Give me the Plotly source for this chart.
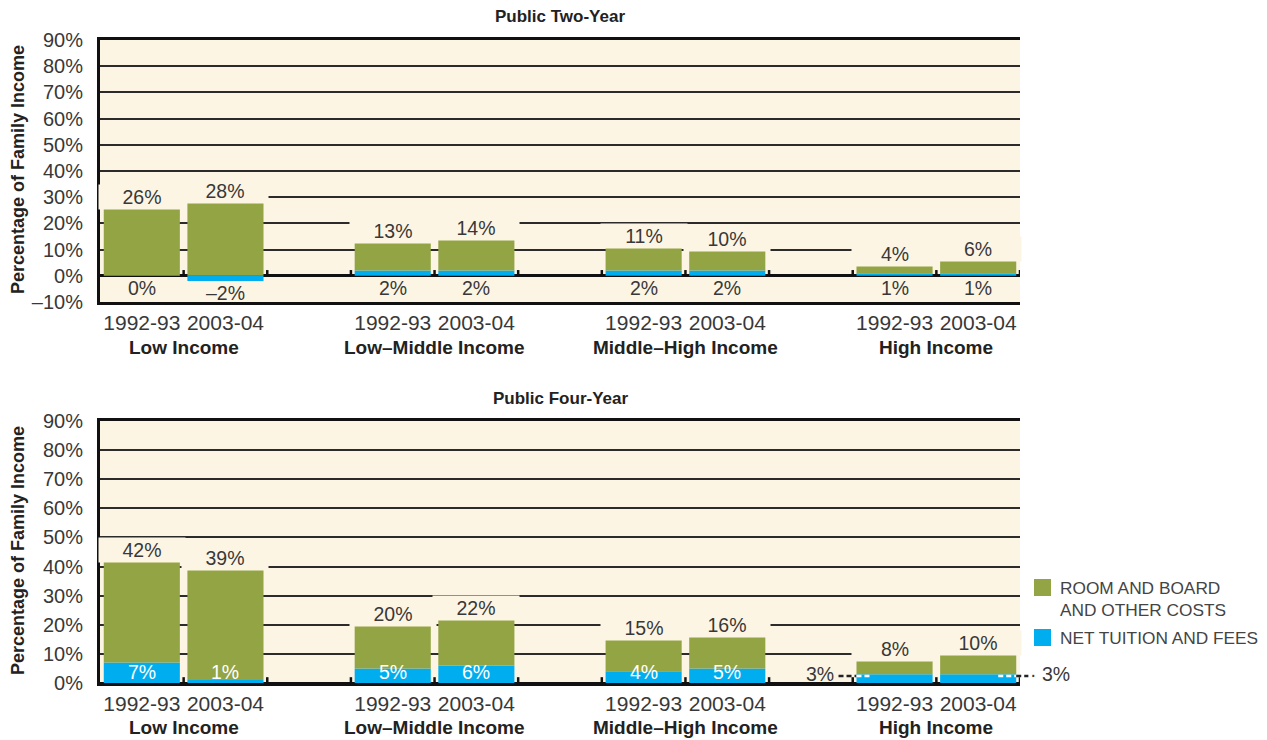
import plotly.graph_objects as go
from plotly.subplots import make_subplots

# data
groups = ["Low Income", "Low–Middle Income", "Middle–High Income", "High Income"]
years = ["1992-93", "2003-04"]

two_year_tuition = [0, -2, 2, 2, 2, 2, 1, 1]
two_year_room = [26, 28, 11, 12, 9, 8, 3, 5]
two_year_total = [26, 28, 13, 14, 11, 10, 4, 6]

four_year_tuition = [7, 1, 5, 6, 4, 5, 3, 3]
four_year_room = [35, 39, 15, 16, 11, 11, 5, 7]
four_year_total = [42, 39, 20, 22, 15, 16, 8, 10]

GREEN = "#93A445"
BLUE = "#00AEEF"
CREAM = "#FDF5E4"
TXT = "#383838"
FONT = "Liberation Sans"

# page is offset by the 8px body margin
OFF = 8
W, H = 1267 - OFF, 740 - OFF
bar_w = 0.91


def X(px):
    return (px - OFF) / W


def Y(py):
    return 1 - (py - OFF) / H


# two bars per group, one empty slot after each group
pos = [g * 3 + j for g in range(len(groups)) for j in range(len(years))]
tick_years = [years[j] for g in range(len(groups)) for j in range(len(years))]
XLEFT, XRIGHT = 100, 1020
XR = [-0.5, 10.5]


def data_px(v):
    return XLEFT + (v - XR[0]) / (XR[1] - XR[0]) * (XRIGHT - XLEFT)


def pct(v):
    return ("–" if v < 0 else "") + str(abs(v)) + "%"


fig = make_subplots(rows=2, cols=1)

panels = [
    (1, two_year_tuition, two_year_room, [-10, 90]),
    (2, four_year_tuition, four_year_room, [0, 90]),
]
for row, tuition, room, yr in panels:
    fig.add_trace(go.Bar(x=pos, y=tuition, width=bar_w, marker_color=BLUE,
                         marker_line_width=0, name="NET TUITION AND FEES",
                         showlegend=False), row=row, col=1)
    fig.add_trace(go.Bar(x=pos, y=room, width=bar_w, marker_color=GREEN,
                         marker_line_width=0, name="ROOM AND BOARD AND OTHER COSTS",
                         showlegend=False), row=row, col=1)
    yt = list(range(yr[0], yr[1] + 1, 10))
    fig.update_yaxes(range=yr, tickvals=yt, ticktext=[pct(v) for v in yt],
                     showgrid=True, gridcolor="#2b2b2b", gridwidth=2,
                     zeroline=True, zerolinecolor="#111", zerolinewidth=3,
                     showline=True, linecolor="#111", linewidth=3,
                     ticks="outside", ticklen=10, tickcolor="rgba(0,0,0,0)",
                     tickfont=dict(family=FONT, size=20, color=TXT),
                     automargin=False, fixedrange=True, row=row, col=1)
    fig.update_xaxes(range=XR, tickvals=pos, ticktext=tick_years,
                     showgrid=False, zeroline=False,
                     showline=True, mirror=True, linecolor="#111", linewidth=3,
                     ticks="",
                     tickfont=dict(family=FONT, size=21, color=TXT),
                     automargin=False, row=row, col=1)

fig.update_layout(
    xaxis=dict(domain=[X(XLEFT), X(XRIGHT)]),
    xaxis2=dict(domain=[X(XLEFT), X(XRIGHT)]),
    yaxis=dict(domain=[Y(302), Y(40)]),
    yaxis2=dict(domain=[Y(683), Y(421)]),
)

ann = []
shapes = []


def label(text, x, y, xref="paper", yref="paper", xanchor="center", yanchor="middle", **kw):
    d = dict(text=text, x=x, y=y, xref=xref, yref=yref, xanchor=xanchor,
             yanchor=yanchor, showarrow=False)
    d.update(kw)
    ann.append(d)


# titles and axis titles
for txt, yp in [("Public Two-Year", 17), ("Public Four-Year", 398)]:
    label(txt, X((XLEFT + XRIGHT) / 2), Y(yp),
          font=dict(family=FONT, size=17, color="#222", weight="bold"))
for yc in [170, 551]:
    label("Percentage of Family Income", X(18), Y(yc), textangle=-90,
          font=dict(family=FONT, size=18, color="#222", weight="bold"))

# group labels
for yp in [347, 727]:
    for g, name in enumerate(groups):
        label(name, X(data_px(g * 3 + 0.5)), Y(yp),
              font=dict(family=FONT, size=19, color="#222", weight="bold"))

# value labels
for xa, ya, totals, tuition in [("x", "y", two_year_total, two_year_tuition),
                                ("x2", "y2", four_year_total, four_year_tuition)]:
    for i, p in enumerate(pos):
        label(pct(totals[i]), p, totals[i], xref=xa, yref=ya, yshift=11, width=84,
              bgcolor=CREAM, font=dict(family=FONT, size=19.5, color=TXT))
    if xa == "x":
        for i, p in enumerate(pos):
            label(pct(tuition[i]), p, min(tuition[i], 0), xref=xa, yref=ya, yshift=-12,
                  font=dict(family=FONT, size=19.5, color=TXT))
    else:
        for i, p in enumerate(pos[:6]):
            label(pct(tuition[i]), p, 0, xref=xa, yref=ya, yshift=11,
                  font=dict(family=FONT, size=19.5, color="white"))
        # High income: labels outside with dashed leaders
        pl, pr = pos[6], pos[7]
        ly = tuition[6] - 0.6
        label(pct(tuition[6]), X(data_px(pl - 0.7)), tuition[6], yref=ya, xanchor="right",
              font=dict(family=FONT, size=19.5, color=TXT))
        label("· " + pct(tuition[7]), X(data_px(pr + 0.6)), tuition[7], yref=ya, xanchor="left",
              font=dict(family=FONT, size=19.5, color=TXT))
        for a, b, c in [(pl - 0.67, pl - bar_w / 2, "#222"), (pl - bar_w / 2, pl - 0.3, "white"),
                        (pr + 0.24, pr + bar_w / 2, "white"), (pr + bar_w / 2, pr + 0.6, "#222")]:
            shapes.append(dict(type="line", xref="paper", yref=ya,
                               x0=X(data_px(a)), x1=X(data_px(b)), y0=ly, y1=ly,
                               line=dict(color=c, width=2.5, dash="5px,3px")))

# small ticks at slot boundaries along the zero line
for xa, ya, tl in [("x", "y", 2.2), ("x2", "y2", 2.0)]:
    for k in range(11):
        shapes.append(dict(type="line", xref=xa, yref=ya, x0=k + 0.5, x1=k + 0.5, y0=0, y1=tl,
                           line=dict(color="#111", width=2.5)))

# legend
for (txt, col, ytop, ytxt) in [("ROOM AND BOARD<br>AND OTHER COSTS", GREEN, 579, 599),
                               ("NET TUITION AND FEES", BLUE, 629, 638)]:
    shapes.append(dict(type="rect", xref="paper", yref="paper", x0=X(1034), x1=X(1051),
                       y0=Y(ytop + 17), y1=Y(ytop), fillcolor=col, line_width=0))
    label(txt, X(1058), Y(ytxt), xanchor="left", align="left",
          font=dict(family=FONT, size=17.3, color="#444"))

fig.update_layout(
    width=W, height=H,
    margin=dict(l=0, r=0, t=0, b=0),
    barmode="relative",
    plot_bgcolor=CREAM,
    paper_bgcolor="white",
    showlegend=False,
    annotations=ann,
    shapes=shapes,
    font=dict(family=FONT, color=TXT),
)

fig.write_html("out.html")
